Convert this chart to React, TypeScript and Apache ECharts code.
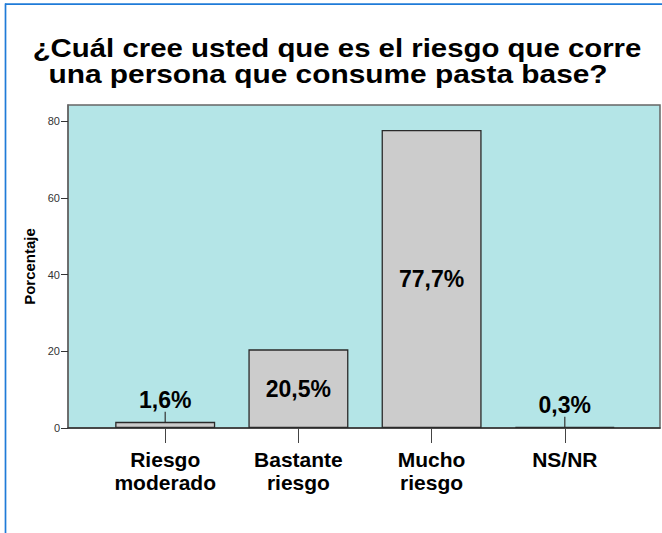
import React, { useEffect, useRef } from "react";
import * as echarts from "echarts";

const titleLines = [
  "¿Cuál cree usted que es el riesgo que corre",
  "una persona que consume pasta base?",
];
const categories = ["Riesgo\nmoderado", "Bastante\nriesgo", "Mucho\nriesgo", "NS/NR"];
const values = [1.6, 20.5, 77.7, 0.3];
const yTicks = [0, 20, 40, 60, 80];
const yAxisName = "Porcentaje";

const FONT = "'Liberation Sans', Arial, Helvetica, sans-serif";

export default function App() {
  const ref = useRef<HTMLDivElement>(null);

  useEffect(() => {
    if (!ref.current) return;
    const chart = echarts.init(ref.current, null, { renderer: "svg" });

    const plotTop = 105;
    const plotBottom = 533 - 428;
    const yMax = 84.2;

    const fmt = (v: number) => v.toFixed(1).replace(".", ",") + "%";

    const data = values.map((v, i) => {
      const small = v < 5;
      return {
        value: v,
        label: small
          ? { position: "top", distance: 9, offset: [i === 0 ? 3 : 5, 0] }
          : { position: "inside", offset: [0, i === 1 ? 5 : 4] },
        labelLine: { show: small },
      };
    });

    chart.setOption({
      animation: false,
      backgroundColor: "#ffffff",
      textStyle: { fontFamily: FONT },
      graphic: [
        {
          type: "line",
          shape: { x1: 5, y1: 4.2, x2: 662, y2: 4.2 },
          style: { stroke: "#1f7bd8", lineWidth: 1.7 },
        },
        {
          type: "line",
          shape: { x1: 5.5, y1: 3.4, x2: 5.5, y2: 533 },
          style: { stroke: "#1f7bd8", lineWidth: 1.7 },
        },
        {
          type: "text",
          x: 337,
          y: 48.5,
          scaleX: 1.175,
          style: {
            text: titleLines[0],
            fontFamily: FONT,
            fontWeight: "bold",
            fontSize: 25,
            fill: "#000",
            align: "center",
            verticalAlign: "middle",
          },
        },
        {
          type: "text",
          x: 328,
          y: 74,
          scaleX: 1.195,
          style: {
            text: titleLines[1],
            fontFamily: FONT,
            fontWeight: "bold",
            fontSize: 25,
            fill: "#000",
            align: "center",
            verticalAlign: "middle",
          },
        },
      ],
      grid: [
        {
          left: 68,
          right: 2,
          top: plotTop,
          bottom: plotBottom,
          show: true,
          backgroundColor: "#b4e5e7",
          borderColor: "#666666",
          borderWidth: 1.5,
        },
        {
          left: 98.6,
          right: 30.6,
          top: plotTop,
          bottom: plotBottom,
        },
      ],
      xAxis: [
        {
          gridIndex: 0,
          type: "value",
          min: 0,
          max: 1,
          axisLine: { show: true, onZero: false, lineStyle: { color: "#333", width: 1.5 } },
          axisTick: { show: false },
          axisLabel: { show: false },
          splitLine: { show: false },
        },
        {
          gridIndex: 1,
          type: "category",
          data: categories,
          axisLine: { show: false },
          axisTick: {
            show: true,
            alignWithLabel: true,
            length: 15,
            lineStyle: { color: "#444", width: 1 },
          },
          axisLabel: {
            margin: 20,
            fontFamily: FONT,
            fontWeight: "bold",
            fontSize: 21,
            lineHeight: 23,
            color: "#000",
            interval: 0,
          },
          splitLine: { show: false },
        },
      ],
      yAxis: [
        {
          gridIndex: 0,
          type: "value",
          min: 0,
          max: yMax,
          interval: 20,
          name: yAxisName,
          nameLocation: "middle",
          nameGap: 31,
          nameTextStyle: {
            fontFamily: FONT,
            fontWeight: "bold",
            fontSize: 15,
            color: "#000",
          },
          axisLine: { show: true, lineStyle: { color: "#666", width: 1.5 } },
          axisTick: {
            show: true,
            length: 7,
            customValues: yTicks,
            lineStyle: { color: "#333", width: 1 },
          },
          axisLabel: {
            margin: 8,
            customValues: yTicks,
            fontFamily: FONT,
            fontSize: 11,
            color: "#333",
            formatter: (v: number) => (yTicks.includes(v) ? String(v) : ""),
          },
          splitLine: { show: false },
        },
        {
          gridIndex: 1,
          type: "value",
          min: 0,
          max: yMax,
          show: false,
          splitLine: { show: false },
        },
      ],
      series: [
        {
          type: "bar",
          xAxisIndex: 1,
          yAxisIndex: 1,
          barWidth: 100,
          data,
          itemStyle: { color: "#cccccc", borderColor: "#2a2a2a", borderWidth: 1.3 },
          label: {
            show: true,
            fontFamily: FONT,
            fontWeight: "bold",
            fontSize: 23,
            color: "#000",
            formatter: (p: any) => fmt(p.value),
          },
          labelLayout: (p: any) =>
            values[p.dataIndex] < 5 ? { dy: -1 } : {},
          labelLine: {
            show: false,
            length2: 0,
            lineStyle: { color: "#333", width: 1.2 },
          },
        },
      ],
    });

    return () => chart.dispose();
  }, []);

  return (
    <div
      ref={ref}
      style={{ position: "fixed", left: 0, top: 0, width: 662, height: 533 }}
    />
  );
}
